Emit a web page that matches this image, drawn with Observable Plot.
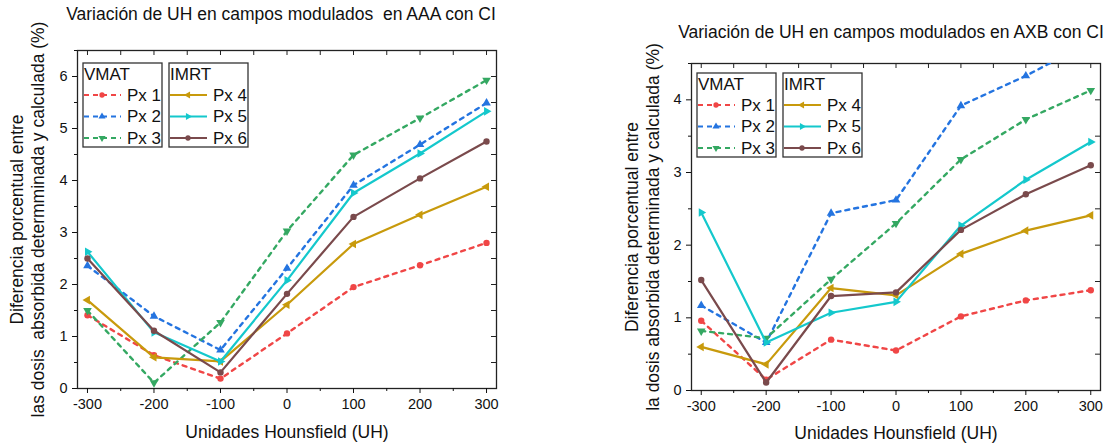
<!DOCTYPE html>
<html>
<head>
<meta charset="utf-8">
<script src="https://cdn.jsdelivr.net/npm/d3@7"></script>
<script src="https://cdn.jsdelivr.net/npm/@observablehq/plot@0.6"></script>
<style>
  body { margin: 0; background: #fff; }
  #wrap { position: relative; width: 1104px; height: 444px; overflow: hidden; background: #fff; }
  #wrap svg { position: absolute; top: 0; }
  svg text { white-space: pre; }
</style>
</head>
<body>
<div id="wrap"></div>
<script>
// ---- data ----
const uh = [-300, -200, -100, 0, 100, 200, 300];
const seriesNames = ["Px 1", "Px 2", "Px 3", "Px 4", "Px 5", "Px 6"];
const seriesGroups = ["VMAT", "VMAT", "VMAT", "IMRT", "IMRT", "IMRT"];
const seriesColors = ["#f04646", "#2474e0", "#34a862", "#c89a0c", "#14c8cc", "#7a4a4c"];
const seriesSymbols = ["circle", "up", "down", "left", "right", "circle"];

const aaaPx1 = [1.41, 0.64, 0.19, 1.06, 1.95, 2.37, 2.80];
const aaaPx2 = [2.36, 1.39, 0.74, 2.31, 3.91, 4.69, 5.49];
const aaaPx3 = [1.50, 0.11, 1.27, 3.03, 4.49, 5.20, 5.93];
const aaaPx4 = [1.70, 0.60, 0.52, 1.61, 2.78, 3.34, 3.88];
const aaaPx5 = [2.63, 1.08, 0.52, 2.08, 3.76, 4.52, 5.33];
const aaaPx6 = [2.50, 1.11, 0.31, 1.82, 3.30, 4.04, 4.75];

const axbPx1 = [0.96, 0.15, 0.70, 0.55, 1.02, 1.24, 1.38];
const axbPx2 = [1.17, 0.66, 2.44, 2.62, 3.92, 4.33, 4.80];
const axbPx3 = [0.82, 0.72, 1.53, 2.30, 3.18, 3.73, 4.13];
const axbPx4 = [0.60, 0.36, 1.41, 1.31, 1.88, 2.20, 2.41];
const axbPx5 = [2.45, 0.66, 1.07, 1.22, 2.27, 2.90, 3.42];
const axbPx6 = [1.52, 0.11, 1.30, 1.35, 2.21, 2.70, 3.10];

const titleAAA = "Variación de UH en campos modulados  en AAA con CI";
const titleAXB = "Variación de UH en campos modulados en AXB con CI";
const yLabelAAA = ["Diferencia porcentual entre", "las dosis  absorbida determminada y calculada (%)"];
const yLabelAXB = ["Diferencia porcentual entre", "la dosis absorbida determinada y calculada (%)"];
const xLabel = "Unidades Hounsfield (UH)";
const xMajor = [-300, -200, -100, 0, 100, 200, 300];
const xMinor = [-250, -150, -50, 50, 150, 250];

// ---- symbols ----
const SQ3 = Math.sqrt(3);
function triSymbol(dir) {
  return {
    draw(ctx, size) {
      const y = -Math.sqrt(size / (SQ3 * 3));
      const pts = [[0, 2 * y], [-SQ3 * y, -y], [SQ3 * y, -y]].map(([a, b]) =>
        dir === "up" ? [a, b] : dir === "down" ? [a, -b] : dir === "left" ? [b, a] : [-b, a]);
      ctx.moveTo(pts[0][0], pts[0][1]);
      ctx.lineTo(pts[1][0], pts[1][1]);
      ctx.lineTo(pts[2][0], pts[2][1]);
      ctx.closePath();
    }
  };
}
function symbolFor(s) { return s === "circle" ? "circle" : triSymbol(s); }

const FONT = "'Liberation Sans', Arial, Helvetica, sans-serif";
const W = 552, H = 444;

function makePanel(cfg) {
  const rows = seriesNames.flatMap((name, i) =>
    uh.map((x, j) => ({ uh: x, v: cfg.values[i][j], s: name, i })));
  const plotW = W - cfg.ml - cfg.mr, plotH = H - cfg.mt - cfg.mb;
  const yMajor = d3.range(0, cfg.ymax + 0.001, 1);
  const yMinor = d3.range(0.5, cfg.ymax + 0.001, 1);
  const yAll = d3.range(0.5, cfg.ymax, 0.5);
  const xAll = xMajor.concat(xMinor);
  const marks = [
    Plot.frame({ stroke: "#222", strokeWidth: 1.3 }),
    Plot.axisX({ ticks: xMajor, tickSize: 5, tickPadding: 5, fontSize: 14.5, label: null, tickFormat: d => String(d) }),
    Plot.axisX({ ticks: xMinor, tickSize: 3, label: null, tickFormat: () => "" }),
    Plot.tickX(xAll, { x: d => d, insetBottom: plotH - 5, stroke: "#222" }),
    Plot.axisY({ ticks: yMajor, tickSize: 5, tickPadding: 5, fontSize: 14.5, label: null, tickFormat: d => String(d) }),
    Plot.axisY({ ticks: yMinor, tickSize: 3, label: null, tickFormat: () => "" }),
    Plot.tickY(yAll, { y: d => d, insetLeft: plotW - 5, stroke: "#222" })
  ];
  seriesNames.forEach((name, i) => {
    const data = rows.filter(r => r.i === i);
    const dashed = i < 3;
    marks.push(Plot.line(data, {
      x: "uh", y: "v", stroke: seriesColors[i], strokeWidth: dashed ? 2.4 : 2.2,
      strokeDasharray: dashed ? "4,5" : null, clip: true
    }));
    marks.push(Plot.dot(data, {
      x: "uh", y: "v", symbol: symbolFor(seriesSymbols[i]), r: 3.2,
      fill: seriesColors[i], stroke: "none", clip: true
    }));
  });
  marks.push(Plot.text([cfg.title], { text: d => d, frameAnchor: "top", textAnchor: "middle", dx: cfg.titleDx, dy: cfg.titleDy, lineAnchor: "middle", fontSize: 17.5, fill: "#111" }));
  marks.push(Plot.text([xLabel], { text: d => d, frameAnchor: "bottom", textAnchor: "middle", dy: cfg.xlDy, lineAnchor: "middle", fontSize: 17.5, fill: "#111" }));
  marks.push(Plot.text([cfg.yLabel[0]], { text: d => d, frameAnchor: "left", textAnchor: "middle", rotate: -90, dx: cfg.yl1Dx, lineAnchor: "middle", fontSize: 17.5, fill: "#111" }));
  marks.push(Plot.text([cfg.yLabel[1]], { text: d => d, frameAnchor: "left", textAnchor: "middle", rotate: -90, dx: cfg.yl2Dx, lineAnchor: "middle", fontSize: 17.5, fill: "#111" }));

  const svg = Plot.plot({
    width: W, height: H,
    marginLeft: cfg.ml, marginRight: cfg.mr, marginTop: cfg.mt, marginBottom: cfg.mb,
    x: { domain: [-315, 315] },
    y: { domain: [0, cfg.ymax] },
    style: { fontFamily: FONT, fontSize: "14.5px", color: "#111", background: "transparent", overflow: "visible" },
    marks
  });
  svg.style.left = cfg.left + "px";
  addLegend(svg, cfg.legX, cfg.legY, "VMAT", [0, 1, 2]);
  addLegend(svg, cfg.legX + 86, cfg.legY, "IMRT", [3, 4, 5]);
  return svg;
}

function addLegend(svg, x0, y0, group, idxs) {
  const g = d3.select(svg).append("g").attr("font-family", FONT).attr("text-anchor", "start");
  g.append("rect").attr("x", x0).attr("y", y0).attr("width", 79).attr("height", 84)
    .attr("fill", "white").attr("stroke", "#333").attr("stroke-width", 1.3);
  g.append("text").attr("x", x0 + 1).attr("y", y0 + 11).attr("dy", "0.35em")
    .attr("font-size", 17).attr("fill", "#111").text(group);
  idxs.forEach((i, k) => {
    const cy = y0 + 32 + k * 21.5;
    g.append("line").attr("x1", x0 + 1).attr("x2", x0 + 38).attr("y1", cy).attr("y2", cy)
      .attr("stroke", seriesColors[i]).attr("stroke-width", 2.2)
      .attr("stroke-dasharray", i < 3 ? "5,4" : null);
    const sym = symbolFor(seriesSymbols[i]);
    const path = d3.symbol(sym === "circle" ? d3.symbolCircle : sym, 22)();
    g.append("path").attr("d", path).attr("transform", `translate(${x0 + 19},${cy})`).attr("fill", seriesColors[i]);
    g.append("text").attr("x", x0 + 44).attr("y", cy).attr("dy", "0.35em")
      .attr("font-size", 17).attr("fill", "#111").text(seriesNames[i]);
  });
}

const wrap = document.getElementById("wrap");
wrap.appendChild(makePanel({
  left: 0, ml: 77, mr: 56, mt: 50, mb: 56, ymax: 6.5,
  values: [aaaPx1, aaaPx2, aaaPx3, aaaPx4, aaaPx5, aaaPx6],
  title: titleAAA, titleDx: -6, titleDy: -36, xlDy: 44,
  yLabel: yLabelAAA, yl1Dx: -60, yl2Dx: -39,
  legX: 83, legY: 63
}));
wrap.appendChild(makePanel({
  left: 552, ml: 139, mr: 4, mt: 63, mb: 54, ymax: 4.5,
  values: [axbPx1, axbPx2, axbPx3, axbPx4, axbPx5, axbPx6],
  title: titleAXB, titleDx: -5, titleDy: -31, xlDy: 43,
  yLabel: yLabelAXB, yl1Dx: -59, yl2Dx: -38,
  legX: 145, legY: 73
}));
</script>
</body>
</html>
